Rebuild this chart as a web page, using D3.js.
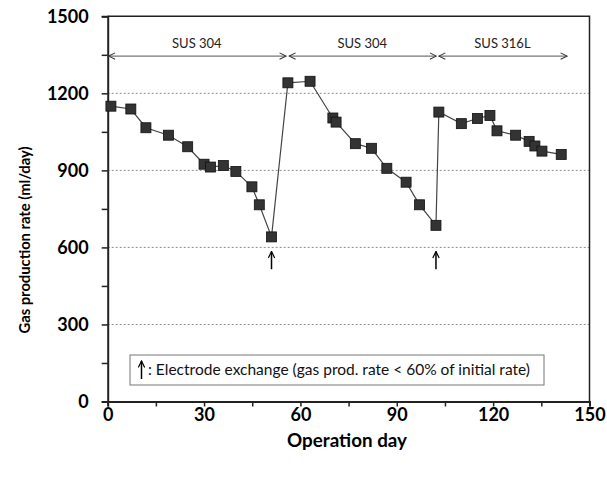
<!DOCTYPE html>
<html><head><meta charset="utf-8">
<script src="https://cdn.jsdelivr.net/npm/d3@7"></script>
<style>
html,body{margin:0;padding:0;background:#fff;}
svg{display:block;font-family:Lato,"Open Sans",sans-serif;}
</style></head>
<body><svg id="c" width="607" height="477"></svg>
<script>
// ---- data ----
const days = [1,7.2,11.9,18.9,24.9,30,32,36,39.9,44.9,47.2,51,56.1,63,70.1,71.1,77.1,82.1,86.9,92.9,97.1,102.2,103.1,110.1,115.1,119,121.2,127,131.2,133,135.2,141.2];
const rates = [1150,1139,1066,1037,992,924,913,919,896,836,766,641,1241,1247,1104,1088,1004,986,908,854,766,686,1127,1082,1102,1114,1054,1037,1013,995,975,962];
const xTicks = [0,30,60,90,120,150];
const yTicks = [0,300,600,900,1200,1500];
const phaseLabels = ["SUS 304","SUS 304","SUS 316L"];
const phaseStart = [0,56.2,102.8];
const phaseEnd = [55.5,102.3,143];
const phaseLevel = 1345;
const exchangeDays = [51,102.2];
const exchangeFrom = 515, exchangeTo = 584;
const legendText = ": Electrode exchange (gas prod. rate < 60% of initial rate)";

// ---- layout ----
const svg = d3.select("#c");
const L = 107.7, R = 589.5, T = 16.3, B = 401.5;
const x = d3.scaleLinear().domain([0,150]).range([L,R]);
const y = d3.scaleLinear().domain([0,1500]).range([B,T]);

const defs = svg.append("defs");
function chevron(id, color, w){
  defs.append("marker").attr("id",id).attr("viewBox","0 0 10 10")
    .attr("refX",9).attr("refY",5).attr("markerWidth",8).attr("markerHeight",8)
    .attr("markerUnits","userSpaceOnUse").attr("orient","auto-start-reverse")
    .append("path").attr("d","M1,1 L9,5 L1,9").attr("fill","none").attr("stroke",color).attr("stroke-width",w);
}
chevron("chev","#333",1.3);
chevron("head","#000",1.5);

// gridlines
svg.append("g").selectAll("line").data(yTicks.filter(v=>v>0 && v<1500)).join("line")
  .attr("x1",L).attr("x2",R).attr("y1",d=>y(d)).attr("y2",d=>y(d))
  .attr("stroke","#8c8c8c").attr("stroke-width",1).attr("stroke-dasharray","2,2");

// plot border (top & right)
svg.append("path").attr("d",`M${L},${T}H${R}V${B}`).attr("fill","none").attr("stroke","#222").attr("stroke-width",1.5);

// axes
const xAxis = d3.axisBottom(x).tickValues(d3.range(0,151,15)).tickSize(5).tickFormat(d=> xTicks.includes(d)? d : "");
const gx = svg.append("g").attr("transform",`translate(0,${B})`).call(xAxis);
const yAxis = d3.axisLeft(y).tickValues(d3.range(0,1501,150)).tickSize(6).tickFormat(d=> yTicks.includes(d)? d : "");
const gy = svg.append("g").attr("transform",`translate(${L},0)`).call(yAxis);
[gx,gy].forEach(g=>{
  g.select(".domain").attr("stroke","#222").attr("stroke-width",2);
  g.selectAll(".tick line").attr("stroke","#222").attr("stroke-width",1.5);
  g.selectAll(".tick text").attr("fill","#000").style("font-family","Lato, 'Open Sans', sans-serif")
    .style("font-weight","700").style("font-size","18px");
});
gx.selectAll(".tick text").attr("dy","0").attr("y",19);
gy.selectAll(".tick text").attr("x",-19).attr("dy","0.35em");

// axis titles
svg.append("text").attr("x",347).attr("y",447).attr("text-anchor","middle")
  .attr("textLength",120).attr("lengthAdjust","spacingAndGlyphs")
  .style("font-weight","700").style("font-size","18px").text("Operation day");
svg.append("text").attr("transform",`translate(30,240) rotate(-90)`).attr("text-anchor","middle")
  .attr("textLength",187).attr("lengthAdjust","spacingAndGlyphs")
  .style("font-weight","700").style("font-size","16px").text("Gas production rate (ml/day)");

// phase arrows
const phases = phaseLabels.map((l,i)=>({l,s:phaseStart[i],e:phaseEnd[i]}));
const pg = svg.append("g");
pg.selectAll("line").data(phases).join("line")
  .attr("x1",d=>x(d.s)+1).attr("x2",d=>x(d.e)).attr("y1",y(phaseLevel)).attr("y2",y(phaseLevel))
  .attr("stroke","#555").attr("stroke-width",1)
  .attr("marker-start","url(#chev)").attr("marker-end","url(#chev)");
pg.selectAll("text").data(phases).join("text")
  .attr("x",d=>x((d.s+d.e)/2)).attr("y",y(phaseLevel)-8).attr("text-anchor","middle")
  .style("font-size","13px").attr("fill","#222").text(d=>d.l);

// line + markers
svg.append("path").datum(days.map((d,i)=>[d,rates[i]]))
  .attr("d",d3.line().x(d=>x(d[0])).y(d=>y(d[1])))
  .attr("fill","none").attr("stroke","#444").attr("stroke-width",1.2);
const ms = 10;
svg.append("g").selectAll("rect").data(days.map((d,i)=>[d,rates[i]])).join("rect")
  .attr("x",d=>x(d[0])-ms/2).attr("y",d=>y(d[1])-ms/2).attr("width",ms).attr("height",ms)
  .attr("fill","#333").attr("stroke","#111").attr("stroke-width",0.8);

// exchange arrows
svg.append("g").selectAll("line").data(exchangeDays).join("line")
  .attr("x1",d=>x(d)).attr("x2",d=>x(d)).attr("y1",y(exchangeFrom)).attr("y2",y(exchangeTo))
  .attr("stroke","#000").attr("stroke-width",1.5).attr("marker-end","url(#head)");

// legend box
const lg = svg.append("g");
lg.append("rect").attr("x",130).attr("y",355).attr("width",414).attr("height",30)
  .attr("fill","#fff").attr("stroke","#777").attr("stroke-width",1);
lg.append("line").attr("x1",141.5).attr("x2",141.5).attr("y1",379).attr("y2",361)
  .attr("stroke","#000").attr("stroke-width",1.5).attr("marker-end","url(#head)");
lg.append("text").attr("x",148).attr("y",375).attr("textLength",382).attr("lengthAdjust","spacingAndGlyphs")
  .style("font-size","15px").attr("fill","#111").text(legendText);
</script></body></html>
